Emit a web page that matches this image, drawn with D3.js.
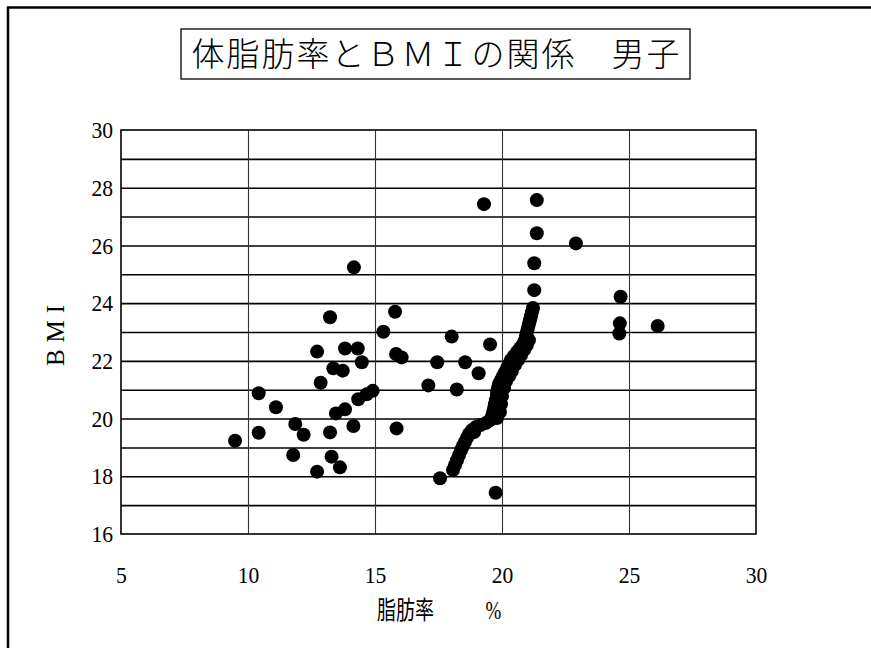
<!DOCTYPE html>
<html><head><meta charset="utf-8">
<script src="https://cdn.jsdelivr.net/npm/d3@7/dist/d3.min.js"></script>
<style>body{margin:0;background:#fff}svg{display:block}
.serif{font-family:"Liberation Serif","Times New Roman","DejaVu Serif",serif}
</style>
</head><body>
<svg id="chart" width="871" height="648"></svg>
<script>
const titleText = "体脂肪率とＢＭＩの関係　男子";
const xLabel = "脂肪率　%";
const yLabel = "BMI";
const xTicks = [5, 10, 15, 20, 25, 30];
const yTicks = [16, 18, 20, 22, 24, 26, 28, 30];
const yGrid = [17, 18, 19, 20, 21, 22, 23, 24, 25, 26, 27, 28, 29];
const xGrid = [10, 15, 20, 25];

// scattered points: body fat % / BMI
const fatScatter = [9.49, 10.42, 10.42, 11.10, 11.86, 12.19, 11.78, 12.72, 12.72, 12.86,
  13.23, 13.82, 14.32, 14.48, 13.36, 13.73, 15.33, 15.79, 15.83, 16.05, 15.85, 13.46,
  13.82, 14.15, 13.23, 13.29, 13.62, 14.34, 14.67, 14.91, 14.17,
  18.02, 19.53, 17.45, 18.55, 19.08, 17.10, 18.22, 17.56, 19.75,
  19.29, 21.37, 21.37, 22.91, 21.27, 21.27, 24.67, 24.64, 24.62, 26.13];
const bmiScatter = [19.23, 20.88, 19.51, 20.39, 19.81, 19.44, 18.74, 18.16, 22.32, 21.24,
  23.51, 22.43, 22.43, 21.95, 21.74, 21.66, 23.01, 23.70, 22.24, 22.12, 19.66, 20.18,
  20.32, 19.74, 19.52, 18.68, 18.31, 20.67, 20.84, 20.96, 25.24,
  22.84, 22.57, 21.95, 21.95, 21.57, 21.15, 21.01, 17.93, 17.43,
  27.43, 27.57, 26.42, 26.07, 25.38, 24.45, 24.22, 23.30, 22.95, 23.21];
// dense chain of overlapping points (main column)
const fatChain = [18.07, 18.15, 18.23, 18.31, 18.39, 18.46, 18.54, 18.62, 18.70, 18.82,
  18.98, 19.17, 19.37, 19.53, 19.61, 19.65, 19.69, 19.72, 19.76, 19.80, 19.80, 19.84,
  19.88, 19.96, 20.04, 20.12, 20.20, 20.28, 20.35, 20.47, 20.59, 20.71, 20.83, 20.91,
  20.94, 20.98, 21.02, 21.06, 21.10, 21.14, 21.18, 21.22];
const bmiChain = [18.22, 18.39, 18.56, 18.74, 18.91, 19.05, 19.19, 19.33, 19.47, 19.60,
  19.71, 19.78, 19.85, 19.95, 20.09, 20.23, 20.37, 20.50, 20.64, 20.78, 20.92, 21.06,
  21.20, 21.34, 21.47, 21.61, 21.75, 21.89, 22.03, 22.17, 22.31, 22.44, 22.58, 22.72,
  22.86, 23.00, 23.14, 23.28, 23.41, 23.55, 23.69, 23.83];
// chain: second column of points beside the main one
const fatChain2 = [18.90, 19.80, 19.92, 19.96, 20.00, 20.08, 20.16, 20.28, 20.39, 20.51,
  20.63, 20.75, 20.87, 20.98, 21.06];
const bmiChain2 = [19.53, 20.02, 20.23, 20.50, 20.78, 21.06, 21.30, 21.47, 21.65, 21.86,
  22.03, 22.20, 22.38, 22.55, 22.72];

const points = fatScatter.map((f, i) => ({x: f, y: bmiScatter[i]}))
  .concat(fatChain.map((f, i) => ({x: f, y: bmiChain[i]})))
  .concat(fatChain2.map((f, i) => ({x: f, y: bmiChain2[i]})));

const svg = d3.select("#chart");
const x = d3.scaleLinear().domain([5, 30]).range([121, 756]);
const y = d3.scaleLinear().domain([16, 30]).range([534, 130]);

// outer frame (left and top edges visible)
svg.append("path").attr("d", "M8,660 L8,7.5 L880,7.5")
  .attr("fill", "none").attr("stroke", "#000").attr("stroke-width", 2.5);

// title box
const tg = svg.append("g");
tg.append("rect").attr("x", 181).attr("y", 29).attr("width", 509).attr("height", 50)
  .attr("fill", "#fff").attr("stroke", "#000").attr("stroke-width", 1.3);
tg.append("text").attr("x", 435.5).attr("y", 66).attr("text-anchor", "middle")
  .attr("font-family", "'Noto Sans CJK JP'").attr("font-weight", 300).attr("font-size", 33)
  .attr("textLength", 488).attr("lengthAdjust", "spacing")
  .text(titleText);

// grid
svg.append("g").attr("transform", "translate(121,0)")
  .call(d3.axisLeft(y).tickValues(yGrid).tickSize(-635).tickFormat(""))
  .call(g => g.select(".domain").remove())
  .call(g => g.selectAll("line").attr("stroke", "#000").attr("stroke-width", 1.6));
svg.append("g").attr("transform", "translate(0,534)")
  .call(d3.axisBottom(x).tickValues(xGrid).tickSize(-404).tickFormat(""))
  .call(g => g.select(".domain").remove())
  .call(g => g.selectAll("line").attr("stroke", "#333").attr("stroke-width", 1.1));

// plot border
svg.append("rect").attr("x", 121).attr("y", 130).attr("width", 635).attr("height", 404)
  .attr("fill", "none").attr("stroke", "#000").attr("stroke-width", 1.6);

// tick labels
svg.append("g").attr("transform", "translate(113,0)")
  .call(d3.axisLeft(y).tickValues(yTicks).tickSize(0).tickPadding(0))
  .call(g => g.select(".domain").remove())
  .call(g => g.attr("font-family", null).attr("font-size", null))
  .call(g => g.selectAll("text").attr("class", "serif").attr("transform", "scale(0.9,1)")
    .attr("font-size", 24).attr("fill", "#000"));
svg.append("g").attr("transform", "translate(0,566)")
  .call(d3.axisBottom(x).tickValues(xTicks).tickSize(0).tickPadding(0))
  .call(g => g.select(".domain").remove())
  .call(g => g.attr("font-family", null).attr("font-size", null))
  .call(g => g.selectAll("text").attr("class", "serif").attr("transform", "scale(0.9,1)")
    .attr("font-size", 24).attr("fill", "#000"));

// axis titles
const xl = svg.append("text").attr("transform", "translate(377,619) scale(0.76,1)")
  .attr("font-size", 25);
xl.append("tspan").attr("font-family", "'Noto Sans CJK JP'")
  .text(xLabel.slice(0, 4));
xl.append("tspan").attr("class", "serif").attr("dx", 43).text(xLabel.slice(4));
svg.append("text").attr("transform", "translate(64,332) rotate(-90)")
  .attr("text-anchor", "middle").attr("class", "serif")
  .attr("font-size", 25).attr("letter-spacing", 7).text(yLabel);

// points
svg.append("g").selectAll("circle").data(points).join("circle")
  .attr("cx", d => x(d.x)).attr("cy", d => y(d.y)).attr("r", 7).attr("fill", "#000");
</script>
</body></html>
